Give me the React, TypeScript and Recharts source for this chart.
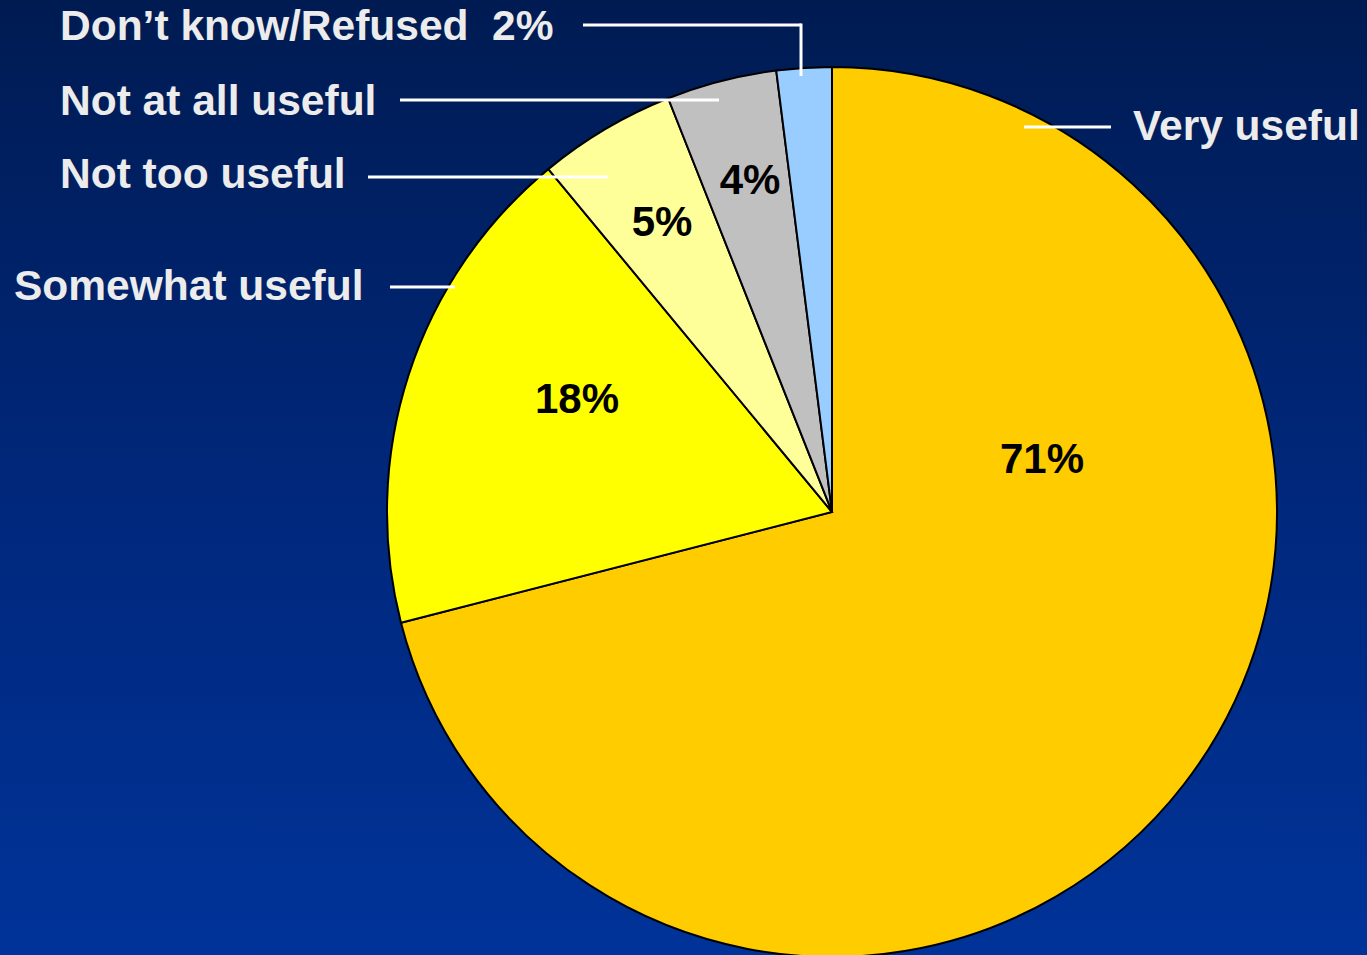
import { PieChart, Pie, Cell } from 'recharts';

const categories = ['Very useful', 'Somewhat useful', 'Not too useful', 'Not at all useful', 'Don\u2019t know/Refused'];
const shares = [71, 18, 5, 4, 2];
const colors = ['#FFCC00', '#FFFF00', '#FFFF99', '#C0C0C0', '#99CCFF'];

const data = categories.map((name, i) => ({ name, value: shares[i] }));

// label layout, offsets from the pie centre
const pctOffsets = [
    { dx: 210, dy: -54 },
    { dx: -255, dy: -114 },
    { dx: -170, dy: -291 },
    { dx: -82, dy: -333 },
    null,
];
const nameLayout = [
    { x: 1133, y: 140, lineFrom: 1111, lineTo: 1024, lineY: 127 },
    { x: 14, y: 300, lineFrom: 390, lineTo: 455, lineY: 287 },
    { x: 60, y: 188, lineFrom: 368, lineTo: 608, lineY: 177 },
    { x: 60, y: 115, lineFrom: 400, lineTo: 719, lineY: 100 },
    { x: 60, y: 40, lineFrom: 583, lineTo: 801, lineY: 25, dropTo: 76 },
];

const FONT = '"Liberation Sans", Arial, sans-serif';

const renderLabel = ({ cx, cy, index, value }: any) => {
    const pos = pctOffsets[index];
    const lay = nameLayout[index];
    const text = index === 4 ? `${categories[index]}  ${value}%` : categories[index];
    return (
        <g key={`lbl-${index}`}>
            <line x1={lay.lineFrom} y1={lay.lineY} x2={lay.lineTo} y2={lay.lineY} stroke="#ffffff" strokeWidth={3} />
            {lay.dropTo && (
                <line x1={lay.lineTo} y1={lay.lineY - 1.5} x2={lay.lineTo} y2={lay.dropTo} stroke="#ffffff" strokeWidth={3} />
            )}
            <text
                x={lay.x}
                y={lay.y}
                fill="#ececec"
                fontFamily={FONT}
                fontWeight="bold"
                fontSize={42.5}
                textAnchor="start"
                style={{ whiteSpace: 'pre' }}
            >
                {text}
            </text>
            {pos && (
                <text
                    x={cx + pos.dx}
                    y={cy + pos.dy}
                    fill="#000000"
                    fontFamily={FONT}
                    fontWeight="bold"
                    fontSize={42}
                    textAnchor="middle"
                    dominantBaseline="central"
                >
                    {`${value}%`}
                </text>
            )}
        </g>
    );
};

export default function App() {
    return (
        <div
            style={{
                position: 'absolute',
                top: 0,
                left: 0,
                width: 1367,
                height: 955,
                overflow: 'hidden',
                background: 'linear-gradient(to bottom, #001b52 0%, #00277a 50%, #003399 100%)',
            }}
        >
            <PieChart width={1367} height={955} margin={{ top: 0, right: 0, bottom: 0, left: 0 }}>
                <Pie
                    data={data}
                    dataKey="value"
                    nameKey="name"
                    cx={832}
                    cy={512}
                    outerRadius={445}
                    startAngle={90}
                    endAngle={-270}
                    stroke="#000000"
                    strokeWidth={2}
                    label={renderLabel}
                    labelLine={false}
                    isAnimationActive={false}
                >
                    {data.map((d, i) => (
                        <Cell key={d.name} fill={colors[i]} />
                    ))}
                </Pie>
            </PieChart>
        </div>
    );
}
